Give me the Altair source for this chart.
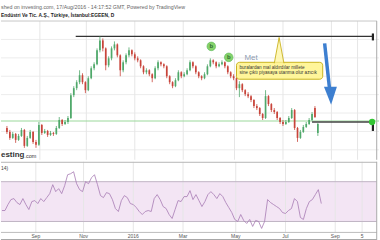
import altair as alt
import pandas as pd

# ---------------- data ----------------
bar_open = [132, 128, 122, 126, 120, 124, 130, 114, 122, 128,
            118, 115, 135, 127, 129, 125, 127, 126, 132, 140,
            136, 138, 142, 165, 172, 178, 185, 178, 170, 182,
            192, 196, 210, 220, 212, 195, 202, 212, 216, 205,
            190, 198, 205, 210, 206, 202, 200, 194, 188, 190,
            186, 182, 192, 198, 196, 194, 184, 178, 174, 180,
            188, 184, 186, 190, 198, 194, 188, 184, 182, 186,
            194, 200, 198, 194, 196, 198, 194, 188, 184, 182,
            172, 176, 170, 166, 164, 160, 154, 152, 146, 142,
            164, 156, 150, 148, 142, 138, 136, 138, 142, 150,
            132, 122, 128, 133, 136, 140, 152, 127]
bar_high = [134, 130, 128, 127, 126, 132, 131, 124, 130, 129,
            120, 138, 136, 131, 130, 129, 128, 134, 143, 141,
            140, 144, 167, 174, 180, 190, 187, 179, 184, 194,
            198, 212, 224, 222, 213, 204, 214, 219, 217, 206,
            200, 207, 213, 211, 208, 204, 201, 195, 192, 191,
            187, 194, 200, 199, 197, 195, 185, 179, 182, 190,
            189, 188, 192, 200, 199, 195, 189, 185, 188, 196,
            202, 201, 199, 198, 200, 199, 195, 189, 186, 183,
            179, 177, 171, 168, 165, 161, 156, 153, 147, 170,
            165, 157, 152, 149, 143, 140, 140, 144, 152, 151,
            133, 130, 135, 138, 142, 148, 154, 137]
bar_low = [126, 120, 121, 117, 119, 123, 112, 113, 121, 116,
           112, 114, 125, 126, 123, 124, 124, 125, 131, 134,
           135, 136, 141, 163, 170, 176, 176, 167, 169, 181,
           190, 195, 208, 209, 190, 193, 200, 210, 203, 184,
           188, 196, 203, 204, 200, 198, 192, 186, 186, 184,
           178, 181, 190, 194, 192, 182, 176, 172, 173, 179,
           182, 183, 185, 189, 192, 186, 182, 180, 181, 185,
           193, 196, 192, 193, 195, 192, 186, 182, 180, 170,
           163, 168, 164, 162, 158, 152, 150, 144, 140, 141,
           154, 148, 146, 140, 136, 134, 135, 137, 141, 130,
           118, 121, 127, 132, 135, 139, 142, 124]
bar_close = [128, 122, 126, 120, 124, 130, 114, 122, 128, 118,
             115, 135, 127, 129, 125, 127, 126, 132, 140, 136,
             138, 142, 165, 172, 178, 185, 178, 170, 182, 192,
             196, 210, 220, 212, 195, 202, 212, 216, 205, 190,
             198, 205, 210, 206, 202, 200, 194, 188, 190, 186,
             182, 192, 198, 196, 194, 184, 178, 174, 180, 188,
             184, 186, 190, 198, 194, 188, 184, 182, 186, 194,
             200, 198, 194, 196, 198, 194, 188, 184, 182, 172,
             176, 170, 166, 164, 160, 154, 152, 146, 142, 164,
             156, 150, 148, 142, 138, 136, 138, 142, 150, 132,
             122, 128, 133, 136, 140, 146, 143, 136]
rsi_values = [41, 41, 47, 52, 53, 49, 47, 53, 47, 42,
              50, 51, 48, 53, 50, 54, 58, 67, 60, 63,
              58, 66, 77, 78, 80, 68, 62, 60, 70, 68,
              74, 77, 67, 56, 54, 59, 58, 52, 43, 40,
              51, 56, 54, 48, 47, 44, 40, 37, 40, 41,
              40, 53, 57, 52, 45, 43, 37, 33, 42, 51,
              50, 55, 55, 61, 52, 57, 51, 45, 50, 57,
              60, 57, 53, 58, 55, 49, 44, 39, 32, 30,
              37, 31, 28, 32, 25, 31, 30, 23, 30, 52,
              49, 47, 45, 43, 39, 38, 41, 43, 53, 50,
              34, 32, 43, 50, 52, 57, 62, 48]

tick_pos = [11.33, 27.33, 44.0, 60.67, 78.33, 95.0, 111.67, 120.67]
tick_labels = ["Sep", "Nov", "2016", "Mar", "May", "Jul", "Sep", "5"]
grid_prices = [221, 202.5, 184, 165.5, 147, 128.5, 110]

resistance = {"x": [23.67], "x2": [126.33], "price": [224]}
support_price = [139]
support_dark = {"x": [105], "x2": [126.33], "price": [138]}
signal_bar = [70.33, 76.33]
signal_price = [214, 203]
signal_text = ["b", "b"]
note_lines = ["buralardan mal aldırdılar millete",
              "sine çıktı piyasaya utanma olur azıcık"]
note_bar = [80, 80]
note_price = [192.5, 187]
box = {"x": [79], "x2": [108.67], "top": [198], "bottom": [181]}
pointer = {"bar": [92, 93.67, 95.33], "price": [197, 223, 197], "base": [197, 197, 197]}
arrow = {"x": [109.33], "x2": [111.0], "y": [217], "y2": [172]}
arrow_head = {"bar": [111.33], "price": [165]}
tags = {"x": [125.57, 125.57], "x2": [126.33, 126.33], "top": [227, 137], "bottom": [220, 129]}
dot = {"bar": [125.67], "price": [138]}
met = {"bar": [84], "price": [202], "t": ["Met"]}

FONT = "Liberation Sans"
UP, DOWN = "#4fa86a", "#c8443a"

n = len(bar_close)
bars = pd.DataFrame({"bar": list(range(n)), "open": bar_open, "high": bar_high,
                     "low": bar_low, "close": bar_close})
bars["dir"] = ["up" if c >= o else "down" for o, c in zip(bar_open, bar_close)]
rsi_df = pd.DataFrame({"bar": list(range(n)), "rsi": rsi_values})
ticks = pd.DataFrame({"pos": tick_pos, "label": tick_labels})
one = pd.DataFrame({"a": [0]})

xs = alt.Scale(domain=[-1 / 3, 126 + 1 / 3], nice=False, zero=False)
ps = alt.Scale(domain=[100, 260], nice=False, zero=False)
rs = alt.Scale(domain=[10, 90], nice=False, zero=False)


def X(f):
    return alt.X(f, type="quantitative", scale=xs, axis=None)


def P(f):
    return alt.Y(f, type="quantitative", scale=ps, axis=None)


def R(f):
    return alt.Y(f, type="quantitative", scale=rs, axis=None)


col = alt.Color("dir:N", scale=alt.Scale(domain=["up", "down"], range=[UP, DOWN]), legend=None)

# ---------------- main price panel ----------------
hgrid = alt.Chart(pd.DataFrame({"price": grid_prices})).mark_rule(color="#ececec").encode(y=P("price"))
vgrid = alt.Chart(ticks).mark_rule(color="#e6e6e6").encode(x=X("pos"), y=alt.value(20.5), y2=alt.value(160))
top_border = alt.Chart(one).mark_rule(color="#c8c8c8").encode(x=alt.value(0), x2=alt.value(378), y=alt.value(20.5))
right_border = alt.Chart(one).mark_rule(color="#aaaaaa").encode(x=alt.value(377.7), y=alt.value(20.5), y2=alt.value(160))
sup = alt.Chart(pd.DataFrame({"price": support_price})).mark_rule(color="#9ad89a", strokeWidth=1).encode(y=P("price"))
res = alt.Chart(pd.DataFrame(resistance)).mark_rule(color="#333333", strokeWidth=1.3).encode(
    x=X("x"), x2="x2", y=P("price"))
sup_dark = alt.Chart(pd.DataFrame(support_dark)).mark_rule(color="#444444", strokeWidth=1.4).encode(
    x=X("x"), x2="x2", y=P("price"))
wicks = alt.Chart(bars).mark_rule(strokeWidth=0.8).encode(x=X("bar"), y=P("low"), y2="high", color=col)
bodies = alt.Chart(bars).mark_bar(size=1.7).encode(x=X("bar"), y=P("open"), y2="close", color=col)

met_t = alt.Chart(pd.DataFrame(met)).mark_text(font=FONT, fontSize=8, color="#8c9bb0", align="center",
                                               baseline="middle").encode(x=X("bar"), y=P("price"), text="t")
box_m = alt.Chart(pd.DataFrame(box)).mark_rect(fill="#fff59a", stroke="#c9b21e", strokeWidth=1,
                                               cornerRadius=3).encode(x=X("x"), x2="x2", y=P("top"), y2="bottom")
ptr = alt.Chart(pd.DataFrame(pointer)).mark_area(color="#fff59a", line={"color": "#c9b21e", "strokeWidth": 0.9}).encode(
    x=X("bar"), y=P("price"), y2="base")
note = alt.Chart(pd.DataFrame({"bar": note_bar, "price": note_price, "t": note_lines})).mark_text(
    font=FONT, fontSize=4.7, color="#333333", align="left", baseline="middle").encode(x=X("bar"), y=P("price"), text="t")

shaft = alt.Chart(pd.DataFrame(arrow)).mark_rule(color="#3d7fd0", strokeWidth=3.5).encode(
    x=X("x"), x2="x2", y=P("y"), y2="y2")
head = alt.Chart(pd.DataFrame(arrow_head)).mark_point(
    shape="M -1 -1.3 L 1 -1.3 L 0.1 1.5 Z", size=169, filled=True, color="#3d7fd0", opacity=1).encode(
    x=X("bar"), y=P("price"))

sig = alt.Chart(pd.DataFrame({"bar": signal_bar, "price": signal_price, "t": signal_text}))
sig_c = sig.mark_point(size=75, filled=True, color="#86d26a", opacity=1, stroke="#5cb85c", strokeWidth=0.6).encode(
    x=X("bar"), y=P("price"))
sig_t = sig.mark_text(font=FONT, fontSize=6, fontWeight="bold", color="#2f6b2f", align="center",
                      baseline="middle").encode(x=X("bar"), y=P("price"), text="t")

tag_m = alt.Chart(pd.DataFrame(tags)).mark_rect(color="#222222").encode(x=X("x"), x2="x2", y=P("top"), y2="bottom")
dot_m = alt.Chart(pd.DataFrame(dot)).mark_point(size=40, filled=True, color="#33c633", opacity=1).encode(
    x=X("bar"), y=P("price"))

hdr1 = alt.Chart(pd.DataFrame({"t": ["shed on investing.com, 17/Aug/2016 - 14:17:52 GMT, Powered by TradingView"]})).mark_text(
    font=FONT, fontSize=5.3, color="#666666", align="left", baseline="middle").encode(
    x=alt.value(0), y=alt.value(6), text="t")
hdr2 = alt.Chart(pd.DataFrame({"t": ["Endüstri Ve Tic. A.Ş., Türkiye, İstanbul:EGEEN, D"]})).mark_text(
    font=FONT, fontSize=4.9, fontWeight="bold", color="#222222", align="left", baseline="middle").encode(
    x=alt.value(0), y=alt.value(15), text="t")
wm1 = alt.Chart(pd.DataFrame({"t": ["esting"]})).mark_text(
    font=FONT, fontSize=8, fontWeight="bold", color="#333333", align="left", baseline="middle").encode(
    x=alt.value(0), y=alt.value(155), text="t")
wm2 = alt.Chart(pd.DataFrame({"t": [".com"]})).mark_text(
    font=FONT, fontSize=5.5, color="#333333", align="left", baseline="middle").encode(
    x=alt.value(23.5), y=alt.value(156), text="t")

main = alt.layer(hgrid, vgrid, top_border, right_border, sup, res, sup_dark, wicks, bodies,
                 shaft, head, met_t, box_m, ptr, note, sig_c, sig_t, tag_m, dot_m,
                 hdr1, hdr2, wm1, wm2).properties(width=380, height=160)

# ---------------- RSI panel ----------------
band = alt.Chart(pd.DataFrame({"upper": [70], "lower": [30]}))
band_r = band.mark_rect(color="#f3e5f4").encode(x=alt.value(0), x2=alt.value(377.7), y=R("upper"), y2="lower")
band_l1 = band.mark_rule(color="#bfb3c4").encode(x=alt.value(0), x2=alt.value(377.7), y=R("upper"))
band_l2 = band.mark_rule(color="#bfb3c4").encode(x=alt.value(0), x2=alt.value(377.7), y=R("lower"))
vgrid2 = alt.Chart(ticks).mark_rule(color="#e6e6e6").encode(x=X("pos"), y=alt.value(0), y2=alt.value(71))
sep = alt.Chart(one).mark_rule(color="#b5b5b5").encode(x=alt.value(0), x2=alt.value(378), y=alt.value(0.5))
axis_line = alt.Chart(one).mark_rule(color="#bbbbbb").encode(x=alt.value(0), x2=alt.value(378), y=alt.value(71))
bottom_line = alt.Chart(one).mark_rule(color="#777777").encode(x=alt.value(0), x2=alt.value(378), y=alt.value(78.5))
right2 = alt.Chart(one).mark_rule(color="#aaaaaa").encode(x=alt.value(377.7), y=alt.value(0), y2=alt.value(78.5))
rsi_line = alt.Chart(rsi_df).mark_line(color="#a77bb3", strokeWidth=0.8).encode(x=X("bar"), y=R("rsi"))
labels = alt.Chart(ticks).mark_text(font=FONT, fontSize=5, color="#555555", align="center",
                                    baseline="middle").encode(x=X("pos"), y=alt.value(74.8), text="label")
rsi_lab = alt.Chart(pd.DataFrame({"t": ["14)"]})).mark_text(font=FONT, fontSize=5, color="#444444", align="left",
                                                           baseline="middle").encode(x=alt.value(0), y=alt.value(6.5), text="t")

rsi_panel = alt.layer(band_r, vgrid2, band_l1, band_l2, sep, axis_line, bottom_line, right2,
                      rsi_line, labels, rsi_lab).properties(width=380, height=80)

chart = alt.vconcat(main, rsi_panel, spacing=0).properties(
    padding={"left": 0, "top": 0, "right": 0, "bottom": 0}, background="white"
).configure_view(stroke=None)

chart.save("out.html", embed_options={"renderer": "svg", "actions": False})
